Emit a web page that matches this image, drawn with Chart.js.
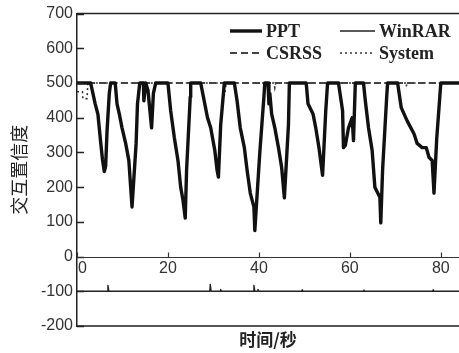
<!DOCTYPE html>
<html>
<head>
<meta charset="utf-8">
<script src="https://cdn.jsdelivr.net/npm/chart.js@4/dist/chart.umd.min.js"></script>
<style>
  body { margin: 0; background: #fff; }
  canvas { display: block; }
</style>
</head>
<body>
<canvas id="confChart" width="459" height="353"></canvas>
<script>
// PPT (thick solid)
const pptTime = [0, 3, 3.5, 4, 4.6, 5.2, 5.6, 6, 6.3, 6.6, 7.1, 7.4, 8.4,
  8.8, 9.3, 9.9, 10.7, 11.4, 11.8, 12.1, 13, 13.3, 13.8,
  14.6, 14.7, 15.1, 15.6, 16.4, 16.8, 17.3, 20,
  20.6, 21.4, 22.2, 22.8, 23.3, 23.8, 24.1, 24.9, 25,
  27.2, 28.1, 28.7, 29.4, 30.3, 30.8, 31.1, 31.6, 32.4,
  34.6, 35.2, 35.9, 36.8, 37.4, 38.1, 38.9, 39.1, 40.2, 41.1, 41.3,
  42, 42.2, 42.4, 42.8, 43.5, 44.3, 45, 45.6, 46.5, 46.7,
  50.4, 50.8, 51.9, 52.5, 53.2, 54, 54.7, 55.1,
  57.5, 58.4, 58.6, 59, 59.7, 60.5, 60.8, 61.2,
  63, 63.4, 64.1, 64.9, 65.5, 66.6, 66.8, 67.2, 68.1, 68.3,
  70.5, 71.3, 72.6, 74.1, 74.8, 75.9, 76.8, 77.4, 78.1, 78.5, 79.1, 80, 84];
const pptValue = [500, 500, 470, 440, 410, 330, 280, 245, 260, 360, 470, 500, 500,
  440, 411, 371, 326, 277, 200, 143, 326, 440, 500,
  500, 449, 500, 480, 371, 470, 500, 500,
  420, 343, 277, 200, 163, 111, 250, 460, 500,
  500, 440, 400, 371, 306, 249, 229, 380, 500,
  500, 449, 371, 314, 249, 183, 143, 75, 300, 460, 500,
  500, 440, 470, 411, 371, 314, 257, 169, 380, 500,
  500, 440, 411, 371, 314, 234, 420, 500,
  500, 420, 314, 320, 371, 400, 334, 500,
  500, 449, 371, 306, 200, 171, 97, 250, 460, 500,
  500, 429, 391, 354, 326, 314, 314, 286, 277, 183, 340, 500, 500];

// WinRAR (thin solid)
const winrarTime = [0, 6.7, 6.8, 7, 29.2, 29.3, 29.5, 31.5, 31.6, 31.8, 38.8, 38.9, 39.1,
  39.7, 39.8, 40, 49.4, 49.5, 49.6, 63, 63.1, 63.2, 78.2, 78.3, 78.4, 84];
const winrarValue = [-100, -100, -83, -100, -100, -80, -100, -100, -95, -100, -100, -83, -100,
  -100, -95, -100, -100, -96, -100, -100, -96, -100, -100, -96, -100, -100];

// CSRSS (dashed)
const csrssTime = [0, 84];
const csrssValue = [500, 500];

// System (dotted)
const systemTime = [0, 1.2, 1.3, 2.2, 2.4, 32.3, 32.5, 32.8, 43.3, 43.5, 43.7, 72.2, 72.4, 72.6, 84];
const systemValue = [475, 475, 455, 455, 500, 500, 470, 500, 500, 486, 500, 500, 490, 500, 500];

const xTicks = [0, 20, 40, 60, 80];
const yMin = -200, yMax = 700, yStep = 100;

const toPoints = (xs, ys) => xs.map((x, i) => ({ x: x, y: ys[i] }));

// axes frame, inner ticks, x axis at y=0, x title and legend
const framePlugin = {
  id: "frame",
  afterDraw(chart) {
    const ctx = chart.ctx;
    const area = chart.chartArea;
    const xs = chart.scales.x;
    const ys = chart.scales.y;
    ctx.save();
    ctx.strokeStyle = "#222";
    ctx.lineWidth = 1.5;
    // top and bottom border
    ctx.beginPath();
    ctx.moveTo(area.left, area.top);
    ctx.lineTo(area.right, area.top);
    ctx.moveTo(area.left, area.bottom);
    ctx.lineTo(area.right, area.bottom);
    ctx.stroke();
    // y ticks inward
    ctx.beginPath();
    ys.ticks.forEach((t) => {
      const py = Math.round(ys.getPixelForValue(t.value)) + 0.5;
      ctx.moveTo(area.left, py);
      ctx.lineTo(area.left + 7, py);
    });
    ctx.stroke();
    // x axis at zero
    const y0 = Math.round(ys.getPixelForValue(0)) + 0.5;
    ctx.strokeStyle = "#333";
    ctx.lineWidth = 1.2;
    ctx.beginPath();
    ctx.moveTo(area.left, y0);
    ctx.lineTo(area.right, y0);
    xTicks.forEach((v) => {
      const px = Math.round(xs.getPixelForValue(v)) + 0.5;
      ctx.moveTo(px, y0);
      ctx.lineTo(px, y0 - 5);
    });
    ctx.stroke();
    ctx.fillStyle = "#333";
    ctx.font = "16px 'Liberation Sans', Arial, sans-serif";
    ctx.textBaseline = "top";
    xTicks.forEach((v, i) => {
      const px = xs.getPixelForValue(v);
      ctx.textAlign = i === 0 ? "left" : "center";
      ctx.fillText(String(v), i === 0 ? px + 1 : px, y0 + 3);
    });
    // x title
    ctx.fillStyle = "#222";
    ctx.font = "bold 17px 'Noto Sans CJK SC', sans-serif";
    ctx.textAlign = "center";
    ctx.textBaseline = "middle";
    ctx.fillText("时间/秒", (area.left + area.right) / 2, 340);
    // legend, 2 x 2
    ctx.font = "bold 18px 'Liberation Serif', 'Times New Roman', serif";
    ctx.textAlign = "left";
    chart.data.datasets.forEach((ds, i) => {
      const col = i % 2, row = Math.floor(i / 2);
      const lx = 230 + col * 110;
      const ly = 31 + row * 22;
      const len = col === 0 ? 32 : 35;
      ctx.strokeStyle = ds.borderColor;
      ctx.lineWidth = ds.borderWidth;
      ctx.setLineDash(ds.borderDash || []);
      ctx.beginPath();
      ctx.moveTo(lx, ly);
      ctx.lineTo(lx + len, ly);
      ctx.stroke();
      ctx.setLineDash([]);
      ctx.fillStyle = "#222";
      ctx.fillText(ds.label, lx + len + 4, ly + 1);
    });
    ctx.restore();
  },
};

const ctx = document.getElementById("confChart").getContext("2d");

new Chart(ctx, {
  type: "line",
  data: {
    datasets: [
      {
        label: "PPT",
        data: toPoints(pptTime, pptValue),
        borderColor: "#111",
        borderWidth: 3.4,
        borderJoinStyle: "round",
        pointRadius: 0,
        tension: 0,
      },
      {
        label: "WinRAR",
        data: toPoints(winrarTime, winrarValue),
        borderColor: "#222",
        borderWidth: 1.4,
        borderJoinStyle: "round",
        pointRadius: 0,
        tension: 0,
      },
      {
        label: "CSRSS",
        data: toPoints(csrssTime, csrssValue),
        borderColor: "#444",
        borderWidth: 2,
        borderDash: [7, 4],
        pointRadius: 0,
      },
      {
        label: "System",
        data: toPoints(systemTime, systemValue),
        borderColor: "#333",
        borderWidth: 1.6,
        borderDash: [2, 3],
        pointRadius: 0,
      },
    ],
  },
  options: {
    responsive: false,
    animation: false,
    layout: { padding: { left: 0, top: 11, right: -7, bottom: 27 } },
    plugins: { legend: { display: false }, tooltip: { enabled: false } },
    scales: {
      x: {
        type: "linear",
        min: 0,
        max: 84,
        display: false,
      },
      y: {
        min: yMin,
        max: yMax,
        ticks: {
          stepSize: yStep,
          color: "#333",
          padding: 4,
          font: { family: "'Liberation Sans', Arial, sans-serif", size: 16 },
        },
        grid: { display: false, drawTicks: false },
        border: { display: true, color: "#222", width: 1.5 },
        title: {
          display: true,
          text: "交互置信度",
          color: "#222",
          padding: { top: 8, bottom: 0 },
          font: { family: "'Noto Sans CJK SC', sans-serif", size: 18 },
        },
        afterFit(scale) {
          scale.width = 77; // left edge of plot box
        },
      },
    },
  },
  plugins: [framePlugin],
});
</script>
</body>
</html>
